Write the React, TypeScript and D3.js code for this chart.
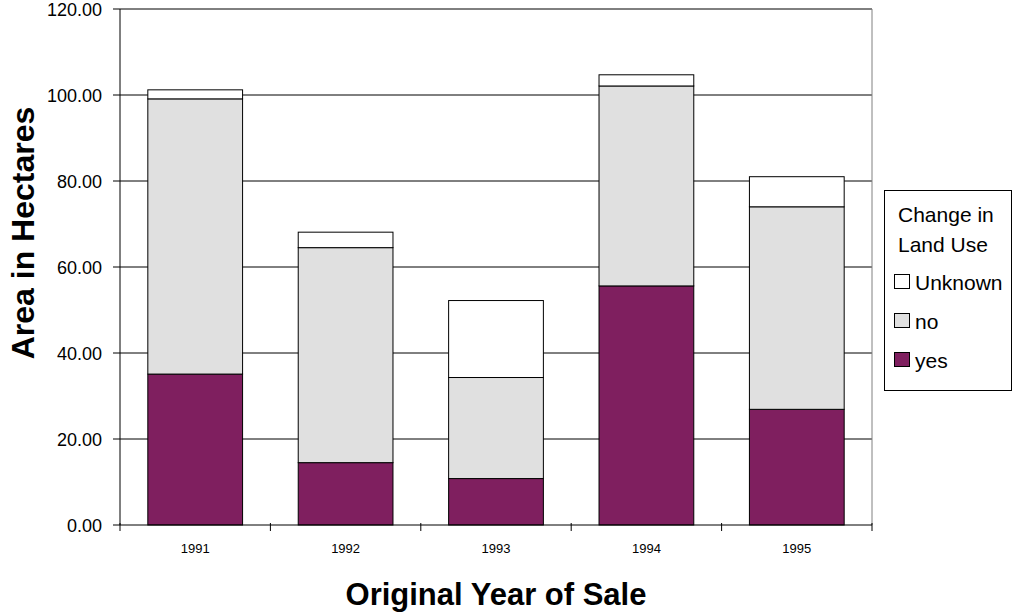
import React from "react";
import * as d3 from "d3";

// Area (hectares) by original year of sale, split by change in land use
const years = ["1991", "1992", "1993", "1994", "1995"];
const yesValues = [35.1, 14.5, 10.8, 55.6, 26.9];
const noValues = [64.0, 50.0, 23.5, 46.5, 47.1];
const unknownValues = [2.1, 3.6, 17.9, 2.6, 7.0];
const seriesKeys = ["yes", "no", "Unknown"];
const legendOrder = ["Unknown", "no", "yes"];
const yTicks = [0, 20, 40, 60, 80, 100, 120];

const W = 1013;
const H = 615;
const plot = { left: 120, right: 872, top: 9, bottom: 525 };
const FONT = "'Liberation Sans', Arial, Helvetica, sans-serif";
const colors: Record<string, string> = {
  yes: "#7F1F5F",
  no: "#E0E0E0",
  Unknown: "#FFFFFF",
};

export default function App() {
  const rows = years.map((year, i) => ({
    year,
    yes: yesValues[i],
    no: noValues[i],
    Unknown: unknownValues[i],
  }));

  const x = d3
    .scaleBand<string>()
    .domain(years)
    .range([plot.left, plot.right])
    .paddingInner(0.37)
    .paddingOuter(0.185);
  const y = d3.scaleLinear().domain([0, 120]).range([plot.bottom, plot.top]);

  const stacked = d3.stack<any>().keys(seriesKeys)(rows);
  const step = x.step();
  const boundaries = d3.range(years.length + 1).map((i) => plot.left + i * step);

  const legendY = [290, 329, 368];

  return (
    <svg
      width={W}
      height={H}
      style={{ position: "absolute", left: 0, top: 0, background: "#fff" }}
      fontFamily={FONT}
    >
      {/* horizontal gridlines */}
      {yTicks
        .filter((t) => t > 0)
        .map((t) => (
          <line
            key={`g${t}`}
            x1={plot.left}
            x2={plot.right}
            y1={y(t)}
            y2={y(t)}
            stroke="#000"
            strokeWidth={1}
          />
        ))}
      {/* right edge of the plot area */}
      <line
        x1={plot.right}
        x2={plot.right}
        y1={plot.top}
        y2={plot.bottom}
        stroke="#808080"
        strokeWidth={1}
      />

      {/* stacked bars */}
      {stacked.map((layer) => (
        <g key={layer.key}>
          {layer.map((d: any) => (
            <rect
              key={d.data.year}
              x={x(d.data.year)}
              y={y(d[1])}
              width={x.bandwidth()}
              height={y(d[0]) - y(d[1])}
              fill={colors[layer.key]}
              stroke="#000"
              strokeWidth={1}
            />
          ))}
        </g>
      ))}

      {/* y axis */}
      <line x1={plot.left} x2={plot.left} y1={plot.top} y2={plot.bottom} stroke="#000" />
      {yTicks.map((t) => (
        <g key={`yt${t}`}>
          <line x1={plot.left - 7} x2={plot.left} y1={y(t)} y2={y(t)} stroke="#000" />
          <text x={102} y={y(t) + 6.5} fontSize={18} textAnchor="end" fill="#000">
            {t.toFixed(2)}
          </text>
        </g>
      ))}

      {/* x axis */}
      <line x1={plot.left} x2={plot.right} y1={plot.bottom} y2={plot.bottom} stroke="#000" />
      {boundaries.map((bx, i) => (
        <line key={`xt${i}`} x1={bx} x2={bx} y1={plot.bottom - 2} y2={plot.bottom + 6} stroke="#000" />
      ))}
      {years.map((yr) => (
        <text
          key={`xl${yr}`}
          x={(x(yr) as number) + x.bandwidth() / 2}
          y={553}
          fontSize={13}
          textAnchor="middle"
          fill="#000"
        >
          {yr}
        </text>
      ))}

      {/* axis titles */}
      <text
        x={(plot.left + plot.right) / 2}
        y={605}
        fontSize={31}
        fontWeight="bold"
        textAnchor="middle"
        fill="#000"
      >
        Original Year of Sale
      </text>
      <text
        transform={`translate(34, 233) rotate(-90)`}
        fontSize={32}
        fontWeight="bold"
        textAnchor="middle"
        fill="#000"
      >
        Area in Hectares
      </text>

      {/* legend */}
      <rect x={884.5} y={190.5} width={127} height={200} fill="#fff" stroke="#000" />
      <text x={898} y={222} fontSize={21} fill="#000">
        Change in
      </text>
      <text x={898} y={252} fontSize={21} fill="#000">
        Land Use
      </text>
      {legendOrder.map((key, i) => (
        <g key={`lg${key}`}>
          <rect
            x={894.5}
            y={legendY[i] - 15.5}
            width={15}
            height={14}
            fill={colors[key]}
            stroke="#000"
          />
          <text x={915} y={legendY[i]} fontSize={21} fill="#000">
            {key}
          </text>
        </g>
      ))}
    </svg>
  );
}
